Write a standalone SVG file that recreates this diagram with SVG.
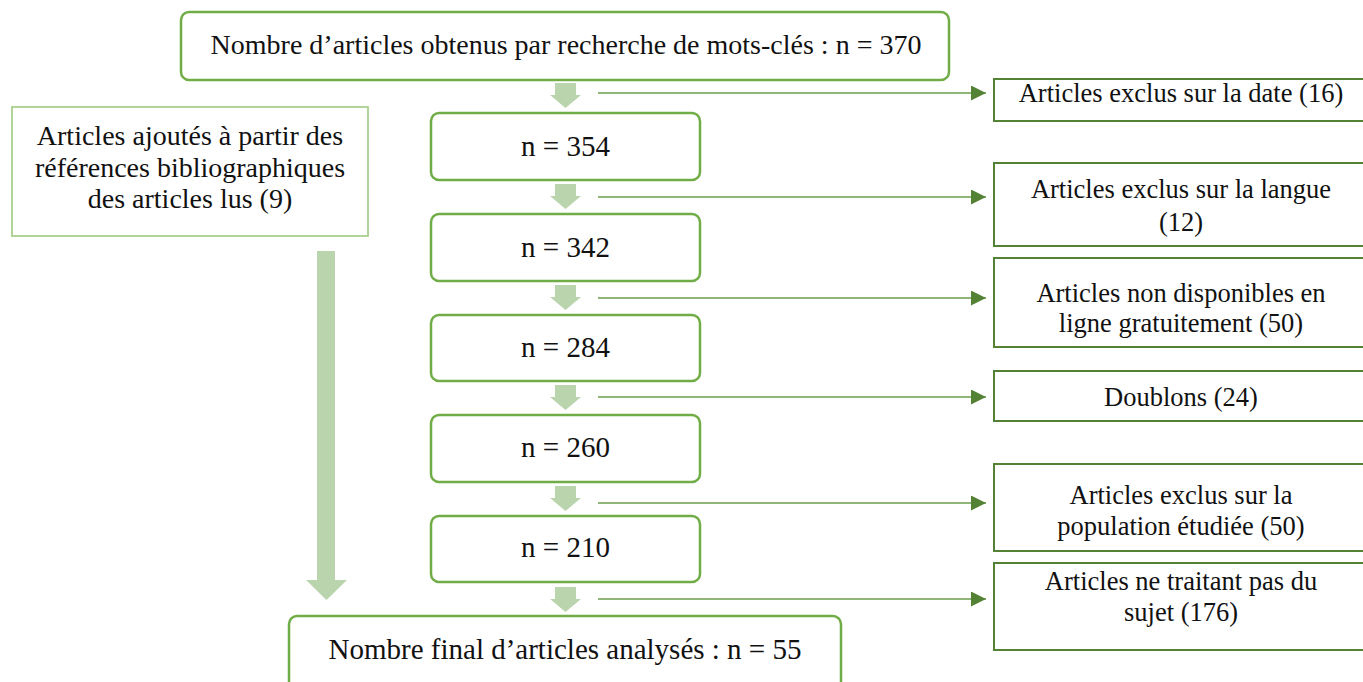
<svg xmlns="http://www.w3.org/2000/svg" width="1363" height="682" viewBox="0 0 1363 682">
<defs>
<style>
text{font-family:"Liberation Serif","Times New Roman",serif;font-size:26.5px;fill:#111;text-anchor:middle}
.big{font-size:28px}
.nn{font-size:29px}
.main{fill:#fff;stroke:#70AD47;stroke-width:2.5}
.side{fill:#fff;stroke:#548235;stroke-width:2}
.added{fill:#fff;stroke:#A9D18E;stroke-width:1.8}
.blk{fill:#BAD4AE}
.ln{stroke:#6A9C4C;stroke-width:1.6;fill:none}
</style>
<marker id="ah" markerWidth="15" markerHeight="15" refX="15" refY="7.5" orient="auto" markerUnits="userSpaceOnUse">
<path d="M0,0 L15,7.5 L0,15 Z" fill="#548235"/>
</marker>
</defs>
<rect width="1363" height="682" fill="#fff"/>

<g id="connectors">
<path class="blk" d="M555,83 h21 v12 h5 l-15.5,13 l-15.5,-13 h5 Z"/>
<path class="blk" d="M555,184 h21 v12 h5 l-15.5,13 l-15.5,-13 h5 Z"/>
<path class="blk" d="M555,285 h21 v12 h5 l-15.5,13 l-15.5,-13 h5 Z"/>
<path class="blk" d="M555,385 h21 v12 h5 l-15.5,13 l-15.5,-13 h5 Z"/>
<path class="blk" d="M555,486 h21 v12 h5 l-15.5,13 l-15.5,-13 h5 Z"/>
<path class="blk" d="M555,587 h21 v12 h5 l-15.5,13 l-15.5,-13 h5 Z"/>
<path class="blk" d="M317,251 h18 v329 h12 l-20.5,20 l-20.5,-20 h11 Z"/>
<line class="ln" x1="598" y1="93" x2="986" y2="93" marker-end="url(#ah)"/>
<line class="ln" x1="598" y1="197" x2="986" y2="197" marker-end="url(#ah)"/>
<line class="ln" x1="598" y1="298" x2="986" y2="298" marker-end="url(#ah)"/>
<line class="ln" x1="598" y1="397" x2="986" y2="397" marker-end="url(#ah)"/>
<line class="ln" x1="598" y1="503" x2="986" y2="503" marker-end="url(#ah)"/>
<line class="ln" x1="598" y1="599" x2="986" y2="599" marker-end="url(#ah)"/>
</g>

<g id="n-start">
<rect class="main" x="181" y="12" width="768" height="68" rx="8"/>
<text class="big" x="566" y="54">Nombre d’articles obtenus par recherche de mots-clés : n = 370</text>
</g>
<g id="n-354">
<rect class="main" x="431" y="113" width="269" height="67" rx="8"/>
<text class="nn" x="565.5" y="156">n = 354</text>
</g>
<g id="n-342">
<rect class="main" x="431" y="214" width="269" height="67" rx="8"/>
<text class="nn" x="565.5" y="257">n = 342</text>
</g>
<g id="n-284">
<rect class="main" x="431" y="315" width="269" height="66" rx="8"/>
<text class="nn" x="565.5" y="357">n = 284</text>
</g>
<g id="n-260">
<rect class="main" x="431" y="415" width="269" height="67" rx="8"/>
<text class="nn" x="565.5" y="457">n = 260</text>
</g>
<g id="n-210">
<rect class="main" x="431" y="516" width="269" height="66" rx="8"/>
<text class="nn" x="565.5" y="557">n = 210</text>
</g>
<g id="n-final">
<rect class="main" x="289" y="616" width="552" height="80" rx="8"/>
<text class="nn" x="565" y="659">Nombre final d’articles analysés : n = 55</text>
</g>

<g id="added">
<rect class="added" x="12" y="107" width="356" height="129"/>
<text class="big" x="190" y="145">Articles ajoutés à partir des</text>
<text class="big" x="190" y="177">références bibliographiques</text>
<text class="big" x="190" y="208">des articles lus (9)</text>
</g>

<g id="ex-date">
<rect class="side" x="994" y="79" width="380" height="42"/>
<text x="1181" y="102">Articles exclus sur la date (16)</text>
</g>
<g id="ex-langue">
<rect class="side" x="994" y="163" width="380" height="83"/>
<text x="1181" y="198">Articles exclus sur la langue</text>
<text x="1181" y="231">(12)</text>
</g>
<g id="ex-dispo">
<rect class="side" x="994" y="258" width="380" height="89"/>
<text x="1181" y="302">Articles non disponibles en</text>
<text x="1181" y="332">ligne gratuitement (50)</text>
</g>
<g id="ex-doublons">
<rect class="side" x="994" y="371" width="380" height="50"/>
<text x="1181" y="406">Doublons (24)</text>
</g>
<g id="ex-pop">
<rect class="side" x="994" y="464" width="380" height="87"/>
<text x="1181" y="504">Articles exclus sur la</text>
<text x="1181" y="535">population étudiée (50)</text>
</g>
<g id="ex-sujet">
<rect class="side" x="994" y="563" width="380" height="87"/>
<text x="1181" y="590">Articles ne traitant pas du</text>
<text x="1181" y="621">sujet (176)</text>
</g>
</svg>
